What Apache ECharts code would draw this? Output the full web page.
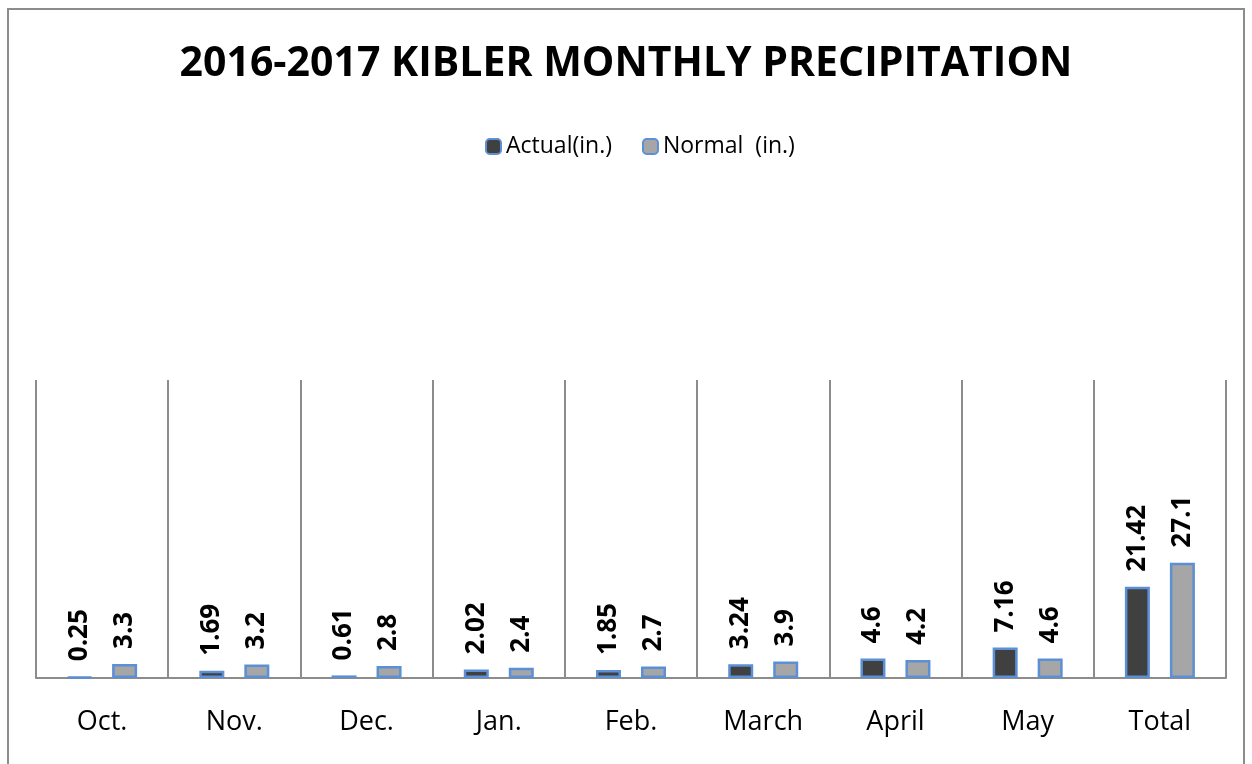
<!DOCTYPE html>
<html lang="en">
<head>
    <meta charset="UTF-8">
    <title>Kibler precipitation</title>
    <style>
        html, body { margin: 0; padding: 0; background: #fff; }
    </style>
</head>
<body>
    <div id="main" style="width: 1252px;height:764px;"></div>
    <script src="https://cdn.jsdelivr.net/npm/echarts@6/dist/echarts.min.js"></script>
    <script>
    var months = ['Oct.', 'Nov.', 'Dec.', 'Jan.', 'Feb.', 'March', 'April', 'May', 'Total'];
    var actual = [0.25, 1.69, 0.61, 2.02, 1.85, 3.24, 4.6, 7.16, 21.42];
    var normal = [3.3, 3.2, 2.8, 2.4, 2.7, 3.9, 4.2, 4.6, 27.1];

    var myChart = echarts.init(document.getElementById('main'));

    // label on top of each bar, turned up
    var barLabel = {
        show: true,
        position: 'top',
        rotate: 90,
        align: 'left',
        verticalAlign: 'middle',
        distance: 15,
        color: '#000',
        fontSize: 26,
        fontWeight: 'bold',
        fontFamily: 'Open Sans'
    };

    var option = {
        animation: false,
        title: {
            text: '2016-2017 KIBLER MONTHLY PRECIPITATION',
            left: 'center',
            top: 39,
            textStyle: {
                fontSize: 41,
                fontWeight: 'bold',
                color: '#000',
                fontFamily: 'Open Sans'
            }
        },
        legend: {
            data: ['Actual(in.)', 'Normal  (in.)'],
            top: 130,
            left: 480,
            itemWidth: 15,
            itemHeight: 15,
            itemGap: 30,
            textStyle: { fontSize: 23, color: '#000', fontFamily: 'Open Sans' }
        },
        graphic: [{
            type: 'rect',
            shape: { x: 8, y: 9, width: 1236, height: 770 },
            style: { fill: 'none', stroke: '#8c8c8c', lineWidth: 2 }
        }],
        grid: {
            left: 36,
            right: 26,
            top: 380,
            bottom: 86
        },
        xAxis: {
            type: 'category',
            data: months,
            axisLine: { lineStyle: { color: '#8c8c8c', width: 2 } },
            axisTick: { show: false },
            axisLabel: {
                margin: 31,
                fontSize: 27,
                color: '#000',
                fontFamily: 'Open Sans'
            },
            splitLine: { show: true, lineStyle: { color: '#8c8c8c', width: 2 } }
        },
        yAxis: {
            type: 'value',
            min: 0,
            max: 70,
            show: false,
            splitLine: { show: false }
        },
        series: [
            {
                name: 'Actual(in.)',
                type: 'bar',
                data: actual,
                barWidth: 25,
                barGap: '80%',
                itemStyle: { color: '#404040', borderColor: '#5b8fd6', borderWidth: 2.5 },
                label: barLabel
            },
            {
                name: 'Normal  (in.)',
                type: 'bar',
                data: normal,
                barWidth: 25,
                itemStyle: { color: '#a6a6a6', borderColor: '#5b8fd6', borderWidth: 2.5 },
                label: barLabel
            }
        ]
    };
    myChart.setOption(option);
    </script>
</body>
</html>
